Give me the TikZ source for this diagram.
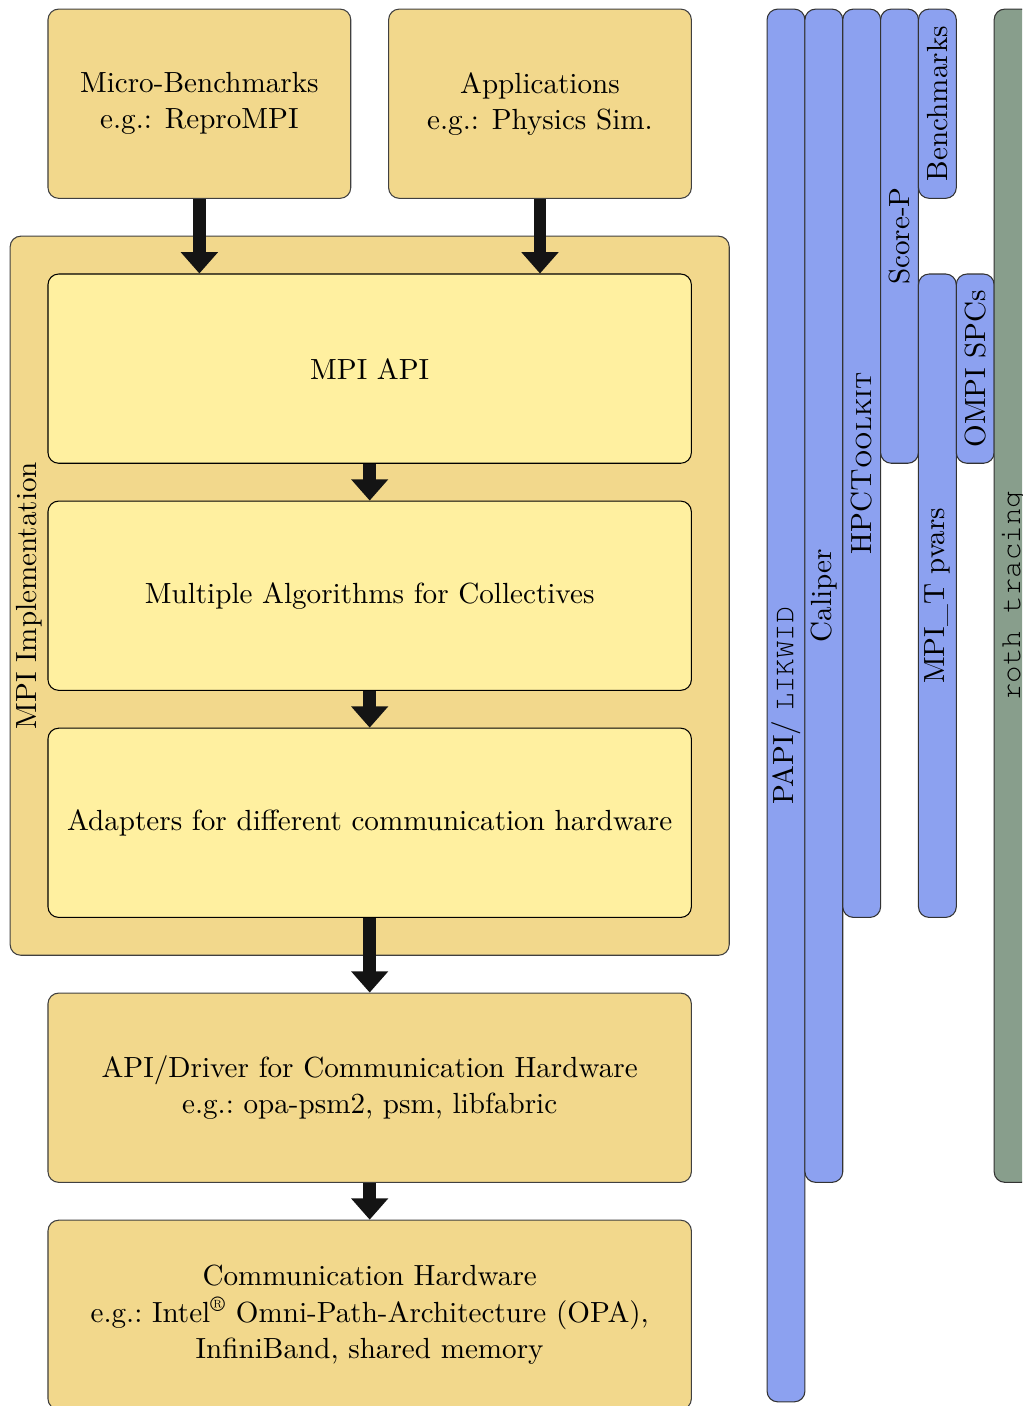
\documentclass[tikz,border=0pt,11pt]{standalone}
\usepackage[T1,TU]{fontenc}
\usepackage{tikz}
\usetikzlibrary{arrows.meta}
\definecolor{layertan}{RGB}{242,216,140}
\definecolor{layeryellow}{RGB}{255,240,160}
\definecolor{toolblue}{RGB}{140,161,240}
\definecolor{toolgreen}{RGB}{136,158,140}
\tikzset{
  layer/.style={draw=black!75, fill=layertan, rounded corners, minimum width=8.5cm, minimum height=2.5cm, align=center, inner sep=0pt},
  sublayer/.style={layer, draw=black, fill=layeryellow},
  tool/.style={draw=black!80, fill=toolblue, rounded corners, rotate=90, minimum height=0.5cm, inner sep=0pt},
  flow/.style={line width=4.8pt, draw=black!92, -{Triangle[width=13.5pt,length=8pt]}},
}
% thin courier for tool names
\newcommand{\cour}[1]{{\fontencoding{T1}\fontfamily{pcr}\selectfont #1}}
% vertical tool bar: name, x, y of centre, length, text, extra style
\newcommand{\toolcol}[6]{\node[tool, minimum width=#4, #6] (#1) at ( #2 , #3 ) {#5};}

\begin{document}
\begin{tikzpicture}
        \useasboundingbox (-0.634,-18.455) rectangle (12.87,0.12);
        \clip (-0.634,-18.455) rectangle (12.87,0.12);

        % applications on top
        \node[layer, minimum width=4cm] (micro) at (2,-1.25) {Micro-Benchmarks\\e.g.: ReproMPI};
        \node[layer, minimum width=4cm] (apps) at (6.5,-1.25) {Applications\\e.g.: Physics Sim.};

        % MPI implementation and its layers
        \node[layer, minimum width=9.5cm, minimum height=9.5cm] (impl) at (4.25,-7.75) {};
        \node[rotate=90] (impllabel) at (-0.25,-7.75) {MPI Implementation};
        \node[sublayer] (api) at (4.25,-4.75) {MPI API};
        \node[sublayer] (algo) at (4.25,-7.75) {Multiple Algorithms for Collectives};
        \node[sublayer] (adapt) at (4.25,-10.75) {Adapters for different communication hardware};

        % below the implementation
        \node[layer] (driver) at (4.25,-14.25) {API/Driver for Communication Hardware\\e.g.:\ opa-psm2, psm, libfabric};
        \node[layer] (hw) at (4.25,-17.25) {Communication Hardware\\e.g.:\ Intel\textsuperscript{\textregistered} Omni-Path-Architecture (OPA),\\InfiniBand, shared memory};

        % arrows between layers
        \draw[flow] (micro.south) -- (micro.south |- api.north);
        \draw[flow] (apps.south) -- (apps.south |- api.north);
        \draw[flow] (api) -- (algo);
        \draw[flow] (algo) -- (adapt);
        \draw[flow] (adapt) -- (driver);
        \draw[flow] (driver) -- (hw);

        % tools, column 1 to 7
        \toolcol{papi}{9.75}{-9.2}{18.4cm}{PAPI/ \cour{LIKWID}}{}
        \toolcol{caliper}{10.25}{-7.75}{15.5cm}{Caliper}{}
        \toolcol{hpct}{10.75}{-6}{12cm}{HPC\textsc{Toolkit}}{}
        \toolcol{scorep}{11.25}{-3}{6cm}{Score-P}{}
        \toolcol{bench}{11.75}{-1.25}{2.5cm}{Benchmarks}{}
        \toolcol{mpit}{11.75}{-7.75}{8.5cm}{MPI\_T pvars}{}
        \toolcol{spc}{12.25}{-4.75}{2.5cm}{OMPI SPCs}{}
        \toolcol{trace}{12.75}{-7.75}{15.5cm}{\cour{roth tracing}}{fill=toolgreen}
\end{tikzpicture}
\end{document}
